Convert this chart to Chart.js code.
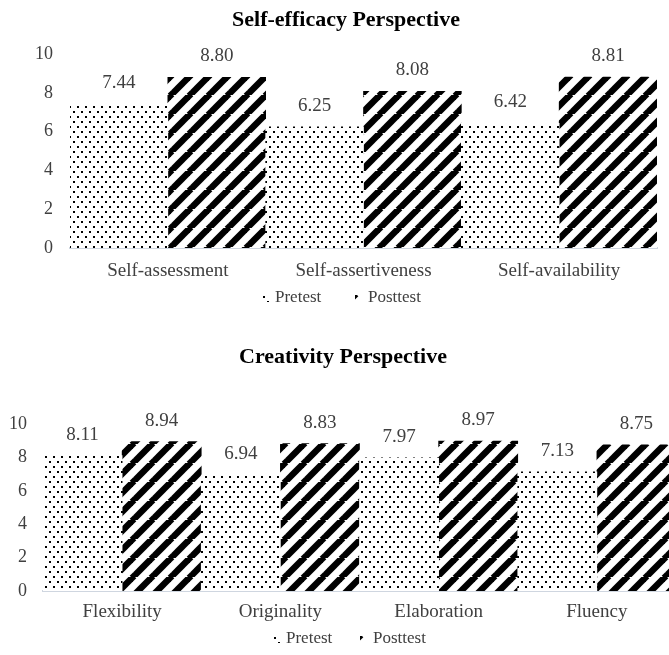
<!DOCTYPE html>
<html>
<head>
<meta charset="utf-8">
<script src="https://cdn.jsdelivr.net/npm/chart.js@4.4.0/dist/chart.umd.min.js"></script>
<style>
html, body { margin: 0; padding: 0; background: #fff; overflow: hidden; width: 669px; height: 655px; }
#topBox { position: absolute; left: 0; top: 0; width: 669px; height: 325px; }
#bottomBox { position: absolute; left: 0; top: 330px; width: 676px; height: 325px; }
</style>
</head>
<body>
<div id="topBox"><canvas id="efficacyChart"></canvas></div>
<div id="bottomBox"><canvas id="creativityChart"></canvas></div>
<script>
const seriesNames = ['Pretest', 'Posttest'];

const efficacyLabels = ['Self-assessment', 'Self-assertiveness', 'Self-availability'];
const efficacyPre = [7.44, 6.25, 6.42];
const efficacyPost = [8.80, 8.08, 8.81];

const creativityLabels = ['Flexibility', 'Originality', 'Elaboration', 'Fluency'];
const creativityPre = [8.11, 6.94, 7.97, 7.13];
const creativityPost = [8.94, 8.83, 8.97, 8.75];

const yTicks = [0, 2, 4, 6, 8, 10];

const FONT = '"Liberation Serif", "Times New Roman", serif';

// fill patterns (dotted for pretest, wide diagonal for posttest)
function dotPattern() {
    const c = document.createElement('canvas');
    c.width = 8; c.height = 10;
    const g = c.getContext('2d');
    g.fillStyle = '#fff';
    g.fillRect(0, 0, 8, 10);
    g.fillStyle = '#000';
    g.fillRect(1, 1, 2, 2);
    g.fillRect(5, 6, 2, 2);
    return g.createPattern(c, 'repeat');
}

function stripePattern() {
    const s = 19;
    const c = document.createElement('canvas');
    c.width = s; c.height = s;
    const g = c.getContext('2d');
    g.fillStyle = '#fff';
    g.fillRect(0, 0, s, s);
    g.strokeStyle = '#000';
    g.lineWidth = 6.5;
    for (const k of [-1, 0, 1]) {
        g.beginPath();
        g.moveTo(k * s - 1, s + 1);
        g.lineTo(k * s + s + 1, -1);
        g.stroke();
    }
    return g.createPattern(c, 'repeat');
}

const barValues = {
    id: 'barValues',
    afterDatasetsDraw(chart, args, opts) {
        const ctx = chart.ctx;
        ctx.save();
        ctx.font = '19px ' + FONT;
        ctx.fillStyle = '#404040';
        ctx.textAlign = 'center';
        ctx.textBaseline = 'middle';
        chart.data.datasets.forEach((ds, i) => {
            chart.getDatasetMeta(i).data.forEach((bar, j) => {
                ctx.fillText(ds.data[j].toFixed(2), bar.x, bar.y - opts.offset);
            });
        });
        ctx.restore();
    }
};

const patternLegend = {
    id: 'patternLegend',
    afterDraw(chart, args, opts) {
        const ctx = chart.ctx;
        ctx.save();
        ctx.font = '17px ' + FONT;
        ctx.textBaseline = 'middle';
        const xs = [opts.x, opts.x2];
        chart.data.datasets.forEach((ds, i) => {
            ctx.save();
            ctx.translate(xs[i], opts.y - 3);
            ctx.fillStyle = ds.backgroundColor;
            ctx.fillRect(0, 0, 7, 7);
            ctx.restore();
            ctx.fillStyle = '#404040';
            ctx.fillText(ds.label, xs[i] + 13, opts.y);
        });
        ctx.restore();
    }
};

function makeChart(canvasId, title, labels, pre, post, layout) {
    const ctx = document.getElementById(canvasId);
    return new Chart(ctx, {
        type: 'bar',
        data: {
            labels: labels,
            datasets: [
                { label: seriesNames[0], data: pre, backgroundColor: dotPattern(), borderWidth: 0 },
                { label: seriesNames[1], data: post, backgroundColor: stripePattern(), borderWidth: 0 }
            ]
        },
        options: {
            responsive: true,
            maintainAspectRatio: false,
            animation: false,
            layout: { padding: layout.padding },
            datasets: { bar: { barPercentage: 1, categoryPercentage: 1 } },
            scales: {
                x: {
                    grid: { display: false, drawTicks: false },
                    border: { display: true, color: '#cfd6e0', width: 2 },
                    ticks: { color: '#404040', padding: layout.xPad, font: { family: FONT, size: 19 } },
                    afterFit(scale) { scale.height = layout.xPad + 22.8; }
                },
                y: {
                    min: yTicks[0],
                    max: yTicks[yTicks.length - 1],
                    grid: { display: false, drawTicks: false },
                    border: { display: false },
                    ticks: { stepSize: yTicks[1] - yTicks[0], color: '#404040', padding: layout.yPad, font: { family: FONT, size: 18 } },
                    afterFit(scale) { scale.width = layout.yWidth; }
                }
            },
            plugins: {
                legend: { display: false },
                tooltip: { enabled: false },
                title: {
                    display: true,
                    text: title,
                    color: '#000',
                    font: { family: FONT, size: 22, weight: 'bold' },
                    padding: layout.titlePad
                },
                barValues: { offset: 21 },
                patternLegend: layout.legend
            }
        },
        plugins: [barValues, patternLegend]
    });
}

makeChart('efficacyChart', 'Self-efficacy Perspective', efficacyLabels, efficacyPre, efficacyPost, {
    padding: { left: 35, right: 12, top: 0, bottom: 42.6 },
    xPad: 11.6,
    yPad: 17,
    yWidth: 35,
    titlePad: { top: 6.8, bottom: 20.8 },
    legend: { x: 262, x2: 355, y: 298 }
});

makeChart('creativityChart', 'Creativity Perspective', creativityLabels, creativityPre, creativityPost, {
    padding: { left: 10, right: 0, top: 0, bottom: 31.6 },
    xPad: 9.6,
    yPad: 16,
    yWidth: 33,
    titlePad: { top: 13.8, bottom: 53.8 },
    legend: { x: 273, x2: 360, y: 309 }
});
</script>
</body>
</html>
